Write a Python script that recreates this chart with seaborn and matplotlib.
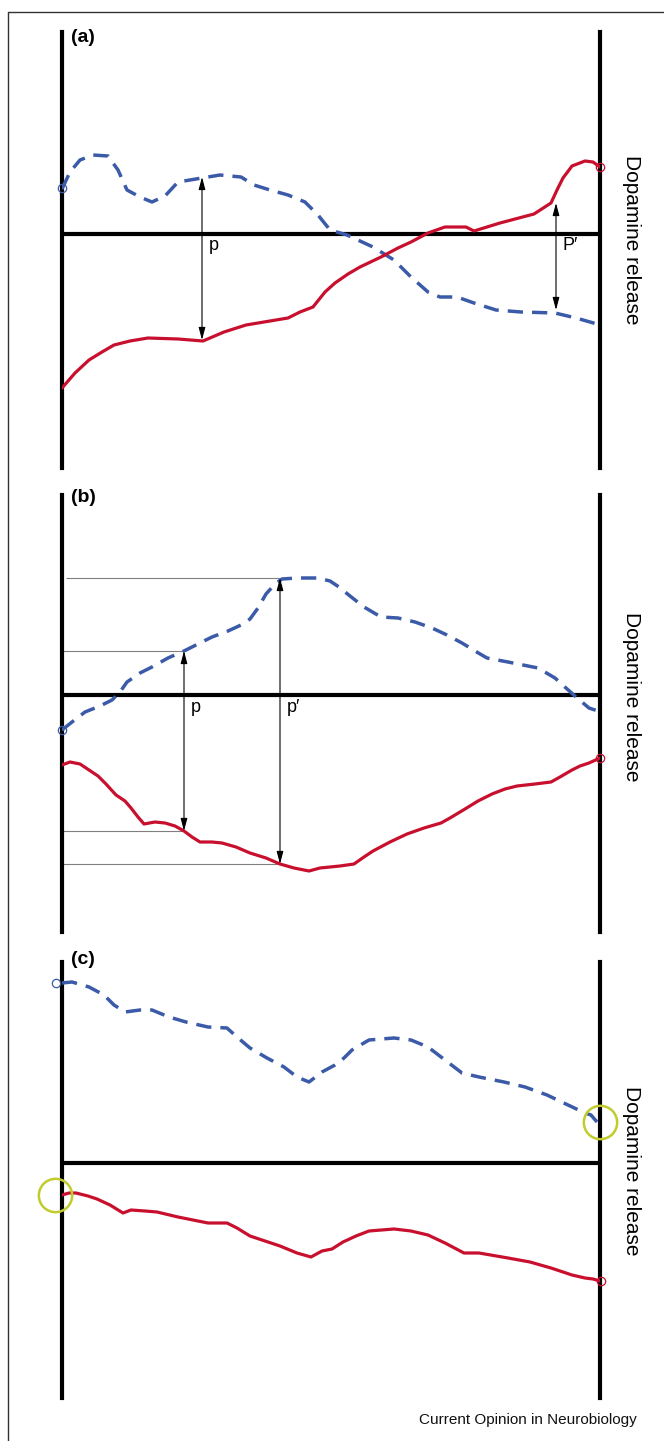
import numpy as np
import pandas as pd
import seaborn as sns
import matplotlib
matplotlib.use("Agg")
import matplotlib.pyplot as plt
from matplotlib.lines import Line2D

sns.set_theme(style="white")
plt.rcParams["font.family"] = ["Liberation Sans", "DejaVu Sans"]
plt.rcParams["text.color"] = "black"

# ---------------- data (time units, dopamine relative to baseline) ----------------
# Panel (a)
a_blue_t = [0, 8, 18, 31, 46, 56, 65, 78, 90, 103, 116, 128, 158, 179, 192, 208, 226, 243,
            256, 268, 285, 311, 332, 349, 366, 378, 395, 412, 434, 459, 493, 514, 535]
a_blue_v = [45, 62, 74, 79, 78, 64, 44, 37, 32, 38, 52, 54, 59, 57, 49, 44, 39, 32,
            19, 4, -1, -13, -26, -43, -58, -63, -63, -69, -76, -78, -79, -84, -90]
a_red_t = [0, 13, 27, 40, 52, 68, 86, 116, 141, 162, 184, 208, 226, 238, 251, 263, 273, 286,
           298, 319, 336, 349, 366, 383, 404, 412, 438, 472, 489, 495, 501, 510, 523, 531, 538]
a_red_v = [-154, -139, -126, -118, -111, -107, -104, -105, -107, -98, -91, -87, -84, -78, -73,
           -58, -49, -40, -33, -23, -14, -8, 1, 7, 7, 3, 11, 20, 31, 44, 56, 68, 73, 72, 67]
a_arrows = [(140, 57, -106, "p"), (494, 31, -76, "P\u2032")]

# Panel (b)
b_blue_t = [0, 10, 23, 38, 50, 58, 65, 78, 90, 106, 122, 136, 150, 166, 179, 188, 196, 204,
            213, 220, 235, 256, 268, 277, 288, 302, 319, 336, 353, 370, 385, 400, 413, 425,
            446, 476, 493, 504, 514, 527, 536]
b_blue_v = [-35, -27, -17, -11, -5, 3, 13, 22, 28, 37, 44, 51, 58, 64, 70, 76, 87, 101,
            111, 116, 117, 117, 114, 108, 99, 88, 78, 77, 73, 67, 60, 52, 44, 37,
            33, 27, 17, 7, -2, -13, -16]
b_red_t = [0, 8, 18, 27, 36, 44, 54, 63, 69, 76, 82, 93, 103, 113, 122, 130, 138, 150, 160,
           174, 188, 204, 218, 232, 247, 258, 278, 292, 302, 311, 328, 345, 362, 379, 388,
           403, 416, 430, 443, 455, 473, 489, 498, 510, 518, 527, 538]
b_red_v = [-70, -67, -69, -75, -81, -89, -100, -106, -113, -122, -129, -127, -128, -131, -136,
           -142, -147, -147, -148, -152, -158, -163, -169, -173, -176, -173, -171, -169, -162,
           -156, -147, -139, -133, -128, -123, -114, -106, -99, -94, -91, -89, -87, -82, -75,
           -71, -68, -63]
b_guides = [(4, 218, 117), (0, 122, 44), (0, 122, -136), (0, 218, -169)]
b_arrows = [(122, 44, -136, "p"), (218, 117, -169, "p\u2032")]

# Panel (c)
c_blue_t = [0, 10, 27, 42, 52, 63, 78, 90, 107, 124, 146, 165, 175, 188, 205, 222, 235, 247,
            260, 273, 282, 290, 307, 332, 349, 366, 383, 400, 417, 442, 463, 485, 506, 523,
            529, 535]
c_blue_v = [180, 181, 176, 168, 158, 151, 153, 153, 146, 141, 136, 135, 126, 115, 105, 96, 86,
            81, 91, 98, 105, 113, 123, 125, 123, 116, 103, 90, 86, 81, 76, 68, 58, 50, 48, 41]
c_red_t = [0, 7, 14, 26, 35, 48, 61, 69, 83, 95, 116, 146, 165, 175, 188, 203, 218, 235, 249,
           260, 270, 281, 294, 307, 332, 349, 366, 383, 402, 417, 446, 468, 489, 510, 523, 531,
           538]
c_red_v = [-32, -30, -30, -33, -36, -42, -50, -47, -48, -49, -54, -60, -60, -65, -73, -78, -83,
           -90, -94, -88, -86, -79, -73, -68, -66, -68, -72, -80, -90, -90, -95, -99, -105,
           -112, -115, -116, -118]
c_highlights = [(-7, -32), (538, 41)]

panel_labels = ["(a)", "(b)", "(c)"]
axis_title = "Dopamine release"
credit = "Current Opinion in Neurobiology"

panels = [
    dict(label=panel_labels[0], blue=(a_blue_t, a_blue_v), red=(a_red_t, a_red_v),
         blue_end=(0, 46), red_end=(538, 67), top_px=32, bot_px=468, base_px=234,
         arrows=a_arrows, guides=[], highlights=[], text_dy=-6, label_y=196),
    dict(label=panel_labels[1], blue=(b_blue_t, b_blue_v), red=(b_red_t, b_red_v),
         blue_end=(0, -35), red_end=(538, -63), top_px=495, bot_px=932, base_px=695,
         arrows=b_arrows, guides=b_guides, highlights=[], text_dy=-2, label_y=197),
    dict(label=panel_labels[2], blue=(c_blue_t, c_blue_v), red=(c_red_t, c_red_v),
         blue_end=(-6, 180), red_end=(539, -118), top_px=962, bot_px=1398, base_px=1163,
         arrows=[], guides=[], highlights=c_highlights, text_dy=-8, label_y=203),
]

BLUE = "#3b5ba8"
RED = "#c8102e"
YELLOW = "#bfcc2c"

W, H = 664, 1441
fig = plt.figure(figsize=(W / 100, H / 100), dpi=100)

# outer frame (top and left edges visible)
fig.add_artist(Line2D([8 / W, 1.0], [1 - 12 / H, 1 - 12 / H], color="#333333", lw=1.0,
                      transform=fig.transFigure))
fig.add_artist(Line2D([8 / W, 8 / W], [1 - 12 / H, 0.0], color="#333333", lw=1.0,
                      transform=fig.transFigure))

for p in panels:
    left = 62 / W
    width = 538 / W
    bottom = 1 - p["bot_px"] / H
    height = (p["bot_px"] - p["top_px"]) / H
    ax = fig.add_axes([left, bottom, width, height])
    ax.set_xlim(0, 538)
    ax.set_ylim(p["base_px"] - p["bot_px"], p["base_px"] - p["top_px"])
    ax.set_xticks([])
    ax.set_yticks([])
    ax.set_xlabel("")
    ax.set_ylabel("")
    for s in ["top", "bottom"]:
        ax.spines[s].set_visible(False)
    for s in ["left", "right"]:
        ax.spines[s].set_visible(True)
        ax.spines[s].set_linewidth(3.0)
        ax.spines[s].set_color("black")
    ax.set_facecolor("none")

    # guide lines
    for (x0, x1, y) in p["guides"]:
        ax.hlines(y, x0, x1, color="#808080", lw=0.8, zorder=1)

    # baseline
    ax.axhline(0, color="black", lw=3.0, zorder=2)

    bt, bv = p["blue"]
    rt, rv = p["red"]
    sns.lineplot(x=bt, y=bv, ax=ax, sort=False, estimator=None, color=BLUE, lw=2.5,
                 linestyle=(0, (4.4, 2.6)), zorder=3, solid_joinstyle="round",
                 dash_joinstyle="round")
    sns.lineplot(x=rt, y=rv, ax=ax, sort=False, estimator=None, color=RED, lw=2.3, zorder=3,
                 solid_joinstyle="round", solid_capstyle="round")

    ax.plot(*p["blue_end"], marker="o", ms=6, mfc="none", mec=BLUE, mew=0.9, clip_on=False,
            zorder=4)
    ax.plot(*p["red_end"], marker="o", ms=6, mfc="none", mec=RED, mew=0.9, clip_on=False,
            zorder=4)

    for (hx, hy) in p["highlights"]:
        ax.plot(hx, hy, marker="o", ms=24, mfc="none", mec=YELLOW, mew=1.8, clip_on=False,
                zorder=5)

    for (x, y0, y1, lab) in p["arrows"]:
        ax.annotate("", xy=(x, y0), xytext=(x, y1),
                    arrowprops=dict(arrowstyle="<|-|>,head_length=0.75,head_width=0.2",
                                    color="black", lw=0.8,
                                    mutation_scale=10, shrinkA=0, shrinkB=0), zorder=4)
        ax.text(x + 7, -12, lab, fontsize=13, ha="left", va="center", zorder=5)

    ax.text(9, p["label_y"], p["label"], fontsize=14, fontweight="bold", ha="left",
            va="center", clip_on=False)

    ax.text(570, p["text_dy"], axis_title, rotation=-90, fontsize=15,
            ha="center", va="center", clip_on=False)

fig.text(637 / W, 1 - 1420 / H, credit, fontsize=11,
         ha="right", va="center", color="#111111")

fig.savefig("out.png", dpi=100, facecolor="white")
